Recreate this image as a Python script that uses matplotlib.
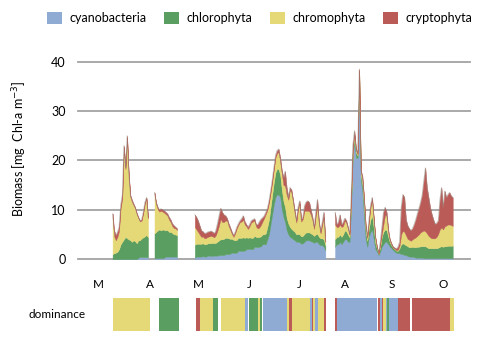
import numpy as np
import matplotlib.pyplot as plt
from matplotlib.patches import Patch

plt.rcParams['font.family'] = ['Lato', 'DejaVu Sans']

groups = ["cyanobacteria", "chlorophyta", "chromophyta", "cryptophyta"]
colors = ["#8FAAD3", "#5B9E62", "#E5D977", "#BB5B57"]

# daily biomass, day of year; four sampling runs with gaps between them
seg_start = [83, 109, 134, 221]

cyano = [
    [0, 0, 0, 0, 0, 0, 0, 0, 0, 0, 0, 0, 0, 0, 0, 0, 0.3, 0.4, 0.4, 0.4, 0.4, 0.4, 0.4],
    [0.2, 0.2, 0.2, 0.2, 0.2, 0.2, 0.3, 0.5, 0.5, 0.5, 0.5, 0.5, 0.5, 0.5, 0.5],
    [0.3, 0.5, 0.5, 0.5, 0.5, 0.6, 0.5, 0.5, 0.7, 0.7, 0.6, 0.7, 0.7, 0.7, 0.7,
     0.8, 0.8, 0.8, 0.8, 1.0, 1.0, 1.0, 1.1, 1.3, 1.3, 1.2, 1.3, 1.7, 1.7, 1.6,
     1.7, 1.7, 2.0, 2.0, 2.1, 2.0, 2.0, 2.5, 2.5, 2.4, 2.5, 2.6, 3.0, 3.0, 3.0,
     4.0, 5.0, 7.0, 9.0, 11.0, 12.5, 13.1, 13.0, 12.5, 10.0, 8.5, 7.5, 5.8, 5.0,
     4.5, 4.3, 4.0, 3.8, 3.5, 3.5, 3.4, 3.1, 3.2, 3.5, 3.8, 3.8, 3.8, 3.6, 3.5,
     3.3, 3.5, 3.5, 3.0, 2.8, 2.8, 2.5, 1.8],
    [2.5, 3.0, 3.0, 3.5, 3.0, 3.5, 4.0, 4.0, 3.5, 3.5, 11.0, 21.0, 24.0, 20.5,
     20.5, 37.5, 16.0, 13.5, 8.5, 4.0, 2.5, 4.5, 5.5, 6.0, 4.0, 2.0, 1.5, 0.8,
     1.5, 2.5, 3.0, 3.5, 3.5, 3.0, 2.5, 2.2, 1.8, 1.5, 1.3, 1.2, 1.2, 1.0, 1.0,
     0.8, 0.8, 0.6, 0.5, 0.5, 0.5, 0.4, 0.3, 0.3, 0.3, 0.3, 0.3, 0.2, 0.2, 0.2,
     0.2, 0.2, 0.2, 0.2, 0.2, 0.2, 0.2, 0.2, 0.2, 0.2, 0.2, 0.2, 0.2, 0.2, 0.2, 0.2],
]
chloro = [
    [1.0, 1.2, 1.3, 1.5, 2.0, 3.0, 3.5, 4.0, 4.5, 4.2, 4.0, 3.8, 3.5, 3.8, 3.6,
     3.2, 3.5, 3.4, 3.8, 4.0, 4.2, 4.5, 4.0],
    [5.0, 5.3, 5.6, 5.8, 5.6, 5.8, 5.6, 5.3, 5.4, 5.0, 5.0, 4.8, 4.5, 4.5, 4.3],
    [2.6, 2.6, 2.6, 2.6, 2.6, 2.6, 2.5, 2.5, 2.5, 2.5, 2.6, 2.6, 2.5, 2.6, 2.8,
     3.0, 3.2, 3.2, 3.3, 3.3, 3.3, 3.2, 3.0, 2.8, 2.6, 2.6, 2.6, 2.6, 2.6, 2.7,
     2.7, 2.6, 2.4, 2.3, 2.3, 2.3, 2.3, 2.2, 2.0, 2.0, 2.0, 2.0, 2.0, 2.0, 2.2,
     2.5, 3.0, 3.5, 4.0, 4.5, 5.0, 5.2, 5.2, 4.5, 4.0, 3.2, 3.0, 2.5, 2.2, 2.0,
     1.8, 1.8, 1.7, 1.5, 1.6, 1.6, 1.5, 1.5, 1.6, 1.6, 1.6, 1.6, 1.6, 1.5, 1.4,
     1.5, 1.6, 1.5, 1.4, 1.4, 1.5, 1.0],
    [1.5, 1.5, 1.5, 1.5, 1.5, 1.5, 1.8, 1.6, 1.5, 0.9, 1.0, 1.0, 0.8, 1.0, 0.5,
     0.5, 1.0, 1.5, 2.0, 1.5, 1.2, 1.8, 2.5, 2.8, 2.2, 1.2, 0.6, 0.3, 1.0, 2.0,
     2.5, 2.5, 2.3, 1.5, 0.8, 0.6, 0.5, 0.5, 0.4, 0.5, 1.0, 2.0, 2.2, 2.2, 2.0,
     2.0, 1.9, 1.9, 2.0, 2.0, 2.1, 2.2, 2.2, 2.3, 2.3, 2.4, 2.4, 2.2, 2.0, 2.0,
     2.0, 2.0, 2.0, 2.0, 2.1, 2.3, 2.4, 2.3, 2.4, 2.4, 2.5, 2.5, 2.5, 2.5],
]
chromo = [
    [7.4, 3.4, 2.5, 3.0, 3.7, 7.4, 8.7, 18.7, 13.7, 20.5, 13.0, 8.8, 8.1, 7.1,
     6.7, 5.9, 4.5, 3.8, 3.6, 4.9, 6.7, 7.4, 3.9],
    [8.0, 5.6, 4.3, 3.6, 4.0, 3.6, 3.5, 3.3, 2.9, 2.5, 2.0, 1.4, 1.3, 1.2, 1.1],
    [3.6, 2.9, 2.4, 1.9, 1.4, 1.4, 1.2, 1.3, 1.3, 1.4, 1.5, 1.3, 1.2, 1.5, 2.2,
     3.0, 4.1, 3.5, 3.4, 3.5, 3.5, 2.5, 1.8, 1.0, 0.6, 1.4, 2.3, 2.6, 3.2, 3.3,
     3.6, 2.7, 2.2, 1.8, 2.3, 3.1, 3.3, 3.1, 2.1, 1.8, 1.9, 2.3, 2.6, 3.3, 3.9,
     3.4, 3.4, 2.9, 2.6, 2.5, 3.0, 3.1, 3.5, 2.7, 3.2, 3.3, 4.3, 4.7, 4.8, 7.5,
     7.4, 5.7, 3.8, 2.4, 4.9, 6.3, 3.0, 3.4, 4.7, 4.4, 4.4, 4.3, 3.8, 2.9, 1.4,
     3.7, 5.5, 2.7, 1.0, 2.7, 4.5, 0.7],
    [3.0, 2.0, 2.0, 2.0, 2.0, 1.7, 2.0, 1.7, 1.2, 0.5, 0.8, 0.5, 0.4, 0.5, 0.2,
     0.3, 0.7, 1.0, 1.5, 1.2, 0.6, 1.4, 2.5, 3.2, 2.0, 1.1, 0.3, 0.0, 0.5, 0.5,
     1.5, 3.0, 2.9, 1.0, 0.4, 0.1, 0.0, 0.1, 0.1, 0.2, 0.5, 2.0, 2.5, 2.5, 2.0,
     1.5, 1.5, 1.3, 1.5, 1.8, 2.0, 2.2, 2.5, 2.8, 3.0, 3.2, 3.0, 2.8, 2.5, 2.2,
     2.0, 2.0, 2.0, 2.3, 2.8, 3.5, 3.8, 3.5, 4.0, 4.2, 4.3, 4.3, 4.2, 4.0],
]
crypto = [
    [0.8, 1.2, 1.0, 1.0, 0.8, 0.6, 0.8, 0.3, 0.3, 0.3, 0.5, 0.4, 0.4, 0.3, 0.2,
     0.2, 0.2, 0.2, 0.2, 0.2, 0.2, 0.2, 0.2],
    [0.3, 0.4, 0.4, 0.4, 0.4, 0.4, 0.4, 0.4, 0.4, 0.5, 0.5, 0.5, 0.5, 0.3, 0.3],
    [2.5, 2.5, 2.3, 1.8, 1.3, 1.0, 1.0, 1.0, 1.0, 1.0, 1.0, 0.9, 0.8, 1.0, 1.5,
     2.0, 2.2, 2.0, 1.5, 1.0, 0.5, 0.5, 0.5, 0.4, 0.3, 0.3, 0.3, 0.3, 0.3, 0.6,
     0.8, 0.6, 0.4, 0.4, 0.4, 0.4, 0.4, 0.4, 0.4, 0.8, 1.2, 1.2, 0.8, 0.5, 0.4,
     0.4, 0.4, 0.4, 0.4, 0.5, 0.5, 0.6, 0.6, 0.8, 0.8, 1.5, 3.0, 1.5, 0.5, 0.5,
     0.5, 0.5, 0.5, 0.4, 0.5, 0.5, 0.4, 0.4, 1.0, 1.8, 2.0, 1.8, 1.0, 0.6, 0.4,
     0.8, 1.5, 0.6, 0.3, 0.6, 1.0, 0.3],
    [2.5, 0.5, 1.0, 2.0, 0.5, 0.8, 0.5, 0.5, 0.3, 0.2, 0.3, 0.5, 0.8, 0.5, 0.3,
     0.2, 0.3, 0.8, 0.5, 0.3, 0.2, 0.3, 0.5, 0.5, 0.3, 0.2, 0.1, 0.1, 0.5, 1.5,
     2.5, 1.5, 0.8, 0.5, 0.3, 0.3, 0.2, 0.2, 0.3, 0.6, 0.8, 5.5, 7.4, 7.0, 3.2,
     2.7, 2.3, 2.1, 2.2, 2.8, 3.6, 4.5, 5.3, 6.1, 7.4, 10.0, 12.9, 9.3, 7.8, 6.1,
     4.9, 3.8, 2.9, 2.8, 2.7, 6.0, 8.1, 4.5, 7.2, 5.7, 6.1, 6.5, 5.9, 5.8],
]

# dominant group per period (day of year)
dom_start = [83.5, 111.5, 135, 137, 145.5, 150.5, 165, 167.5, 170.5, 171, 173.5,
             174.5, 176.5, 191, 192.5, 194, 205.5, 206.5, 207.5, 208.5, 210.5, 214,
             221, 222, 247.5, 249, 250, 251, 252.5, 253.5, 254.5, 260, 268.5, 292.5]
dom_end = [106.5, 124, 137, 145.5, 148.5, 165, 167, 170.5, 171, 173.5, 174.5,
           176, 191, 192.5, 194, 205.5, 206.5, 207.5, 208.5, 210.5, 214, 215.5,
           222, 247, 249, 250, 251, 252.5, 253.5, 254.5, 260, 267.5, 292.5, 295]
dom_group = ["chromophyta", "chlorophyta", "cryptophyta", "chromophyta", "chlorophyta",
             "chromophyta", "cyanobacteria", "chlorophyta", "chromophyta", "chlorophyta",
             "chromophyta", "chlorophyta", "cyanobacteria", "chromophyta", "cryptophyta",
             "chromophyta", "cyanobacteria", "cryptophyta", "chromophyta", "cyanobacteria",
             "chromophyta", "cryptophyta", "cryptophyta", "cyanobacteria", "cryptophyta",
             "cyanobacteria", "cryptophyta", "chromophyta", "cyanobacteria", "chlorophyta",
             "cyanobacteria", "cryptophyta", "cryptophyta", "chromophyta"]

month_days = [74, 106, 136, 168, 199, 227, 256, 288]
month_labels = ["M", "A", "M", "J", "J", "A", "S", "O"]
yticks = [0, 10, 20, 30, 40]

fig = plt.figure(figsize=(4.85, 3.4), dpi=100)
ax = fig.add_axes([0.161, 0.238, 0.808, 0.581])

for h in yticks:
    ax.axhline(h, color="#A3A3A3", lw=1.3, zorder=0, clip_on=False)

for k, start in enumerate(seg_start):
    layers = [cyano[k], chloro[k], chromo[k], crypto[k]]
    x = np.arange(start, start + len(layers[0]))
    base = np.zeros(len(x))
    for vals, c in zip(layers, colors):
        top = base + np.array(vals)
        ax.fill_between(x, base, top, facecolor=c, edgecolor=c, lw=0.3, zorder=2)
        base = top
    ax.plot(x, base, color="#8C8C80", lw=0.5, alpha=0.6, zorder=3)

ax.set_xlim(61.6, 304.7)
ax.set_ylim(0, 40)
ax.set_yticks(yticks)
ax.set_xticks(month_days, month_labels)
ax.tick_params(axis="y", length=0, pad=9, labelsize=9)
ax.tick_params(axis="x", length=0, pad=14, labelsize=8.5)
for s in ax.spines.values():
    s.set_visible(False)
ax.set_ylabel("Biomass [mg  Chl-a m$^{-3}$]", fontsize=9)
ax.yaxis.set_label_coords(-0.125, 0.56)

handles = [Patch(facecolor=c, edgecolor="none") for c in colors]
fig.legend(handles, groups, loc="center", bbox_to_anchor=(0.535, 0.947), ncol=4,
           frameon=False, fontsize=9, handlelength=1.2, handleheight=1.2,
           handletextpad=0.6, columnspacing=1.4)

# dominance strip
ax2 = fig.add_axes([0.161, 0.0265, 0.808, 0.097])
for s0, s1, g in zip(dom_start, dom_end, dom_group):
    ax2.barh(0, s1 - s0, left=s0, height=1, color=colors[groups.index(g)], lw=0)
ax2.set_xlim(ax.get_xlim())
ax2.set_ylim(-0.5, 0.5)
ax2.axis("off")
ax2.text(0.018, 0.5, "dominance", transform=ax2.transAxes, ha="right",
         va="center", fontsize=8.5)

fig.savefig("out.png", dpi=100)
